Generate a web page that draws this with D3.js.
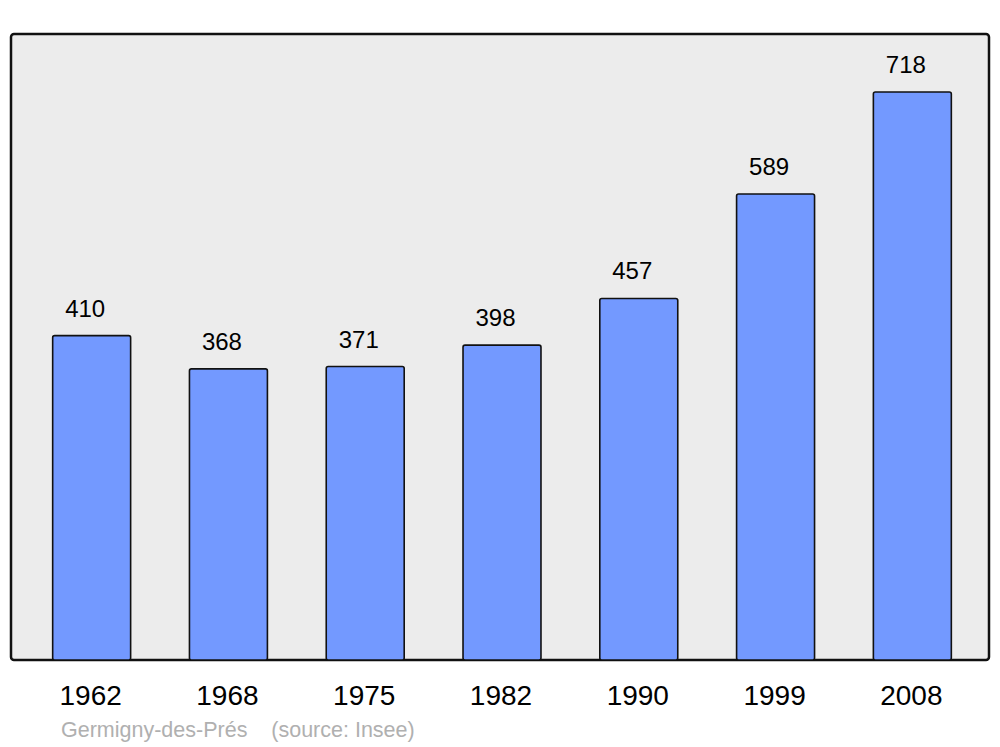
<!DOCTYPE html>
<html>
<head>
<meta charset="utf-8">
<script src="https://cdn.jsdelivr.net/npm/d3@7"></script>
<style>
  body { margin: 0; background: #fff; }
  svg { display: block; font-family: "Liberation Sans", Arial, sans-serif; }
</style>
</head>
<body>
<svg id="chart" width="1000" height="747"></svg>
<script>
  const years = ['1962', '1968', '1975', '1982', '1990', '1999', '2008'];
  const population = [410, 368, 371, 398, 457, 589, 718];
  const commune = 'Germigny-des-Prés';
  const source = '(source: Insee)';

  const width = 1000, height = 747;
  const panel = { left: 11, top: 34, right: 989, bottom: 660 };

  const svg = d3.select('#chart');

  // background panel
  svg.append('rect')
    .attr('x', panel.left)
    .attr('y', panel.top)
    .attr('width', panel.right - panel.left)
    .attr('height', panel.bottom - panel.top)
    .attr('rx', 3)
    .attr('fill', '#ececec')
    .attr('stroke', '#111')
    .attr('stroke-width', 2.5);

  const xScale = d3.scaleBand()
    .domain(years)
    .range([panel.left + 2, panel.right + 2])
    .paddingInner(0.43)
    .paddingOuter(0.29);

  const yScale = d3.scaleLinear()
    .domain([0, 718])
    .range([panel.bottom, 92]);

  const data = years.map((y, i) => ({ year: y, value: population[i] }));

  // bars
  svg.append('g')
    .selectAll('rect')
    .data(data)
    .enter().append('rect')
      .attr('x', d => xScale(d.year))
      .attr('y', d => yScale(d.value))
      .attr('width', xScale.bandwidth())
      .attr('height', d => yScale(0) - yScale(d.value))
      .attr('rx', 2)
      .attr('fill', '#7399ff')
      .attr('stroke', '#111')
      .attr('stroke-width', 1.6);

  // value labels
  svg.append('g')
    .selectAll('text')
    .data(data)
    .enter().append('text')
      .attr('x', d => xScale(d.year) + xScale.bandwidth() / 2 - 6.5)
      .attr('y', d => yScale(d.value) - 19)
      .attr('text-anchor', 'middle')
      .attr('font-size', 24)
      .attr('fill', '#000')
      .text(d => d.value);

  // x axis labels
  const xAxis = d3.axisBottom(xScale).tickSize(0).tickPadding(0);
  const xAxisG = svg.append('g')
    .attr('transform', `translate(0,${panel.bottom})`)
    .call(xAxis);
  xAxisG.select('.domain').remove();
  xAxisG.selectAll('text')
    .attr('dy', null)
    .attr('x', -1)
    .attr('y', 45)
    .attr('font-size', 28)
    .attr('font-family', '"Liberation Sans", Arial, sans-serif')
    .attr('fill', '#000');

  // footer
  svg.append('text')
    .attr('x', 61)
    .attr('y', 737)
    .attr('font-size', 21.5)
    .attr('fill', '#b0b0b0')
    .attr('xml:space', 'preserve')
    .style('white-space', 'pre')
    .text(commune + '    ' + source);
</script>
</body>
</html>
